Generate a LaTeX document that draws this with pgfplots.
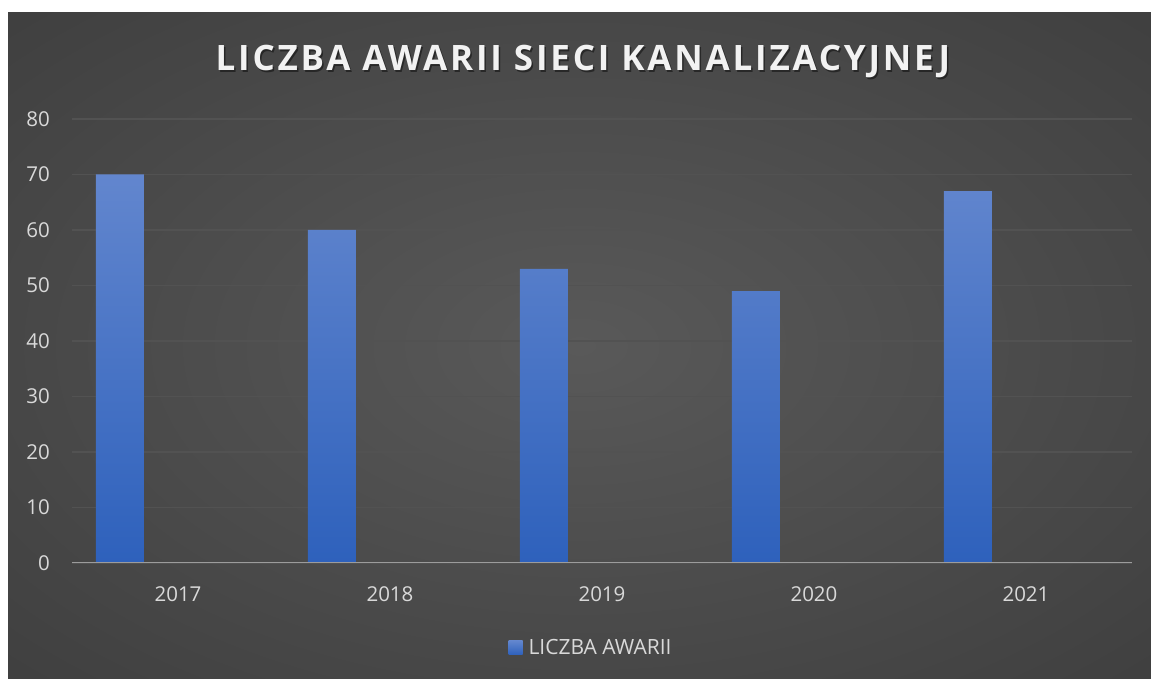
\documentclass[border=0pt]{standalone}
\usepackage{fontspec}
\setmainfont{Open Sans}
\newfontfamily\titlefont{Open Sans}[LetterSpace=8]
\usepackage{pgfplots}
\pgfplotsset{compat=1.18}
\definecolor{bgin}{HTML}{595959}
\definecolor{bgmid}{HTML}{353535}
\definecolor{bgout}{HTML}{262626}
\definecolor{bartop}{HTML}{6286CE}
\definecolor{barbot}{HTML}{2E61BC}
\definecolor{lbl}{HTML}{D9D9D9}
\definecolor{gridc}{HTML}{525252}
\definecolor{zeroc}{HTML}{9C9C9C}
\pgfdeclareradialshading{bgshade}{\pgfpoint{0bp}{0bp}}{color(0bp)=(bgin); color(50bp)=(bgmid); color(72bp)=(bgout)}
\begin{document}
\begin{tikzpicture}[x=1pt,y=1pt]
\path[use as bounding box, fill=white] (0pt,0pt) rectangle (1151pt,679pt);
\shade[shading=bgshade] (8pt,0pt) rectangle (1151pt,666pt);
\node[text=black, opacity=0.45, font=\titlefont\bfseries\fontsize{35}{42}\selectfont] at (584.5pt,615.5pt) {LICZBA AWARII SIECI KANALIZACYJNEJ};
\node[text=white!95!black, font=\titlefont\bfseries\fontsize{35}{42}\selectfont] at (583pt,617pt) {LICZBA AWARII SIECI KANALIZACYJNEJ};
\begin{axis}[
  at={(72pt,116pt)}, anchor=south west,
  scale only axis, width=1060pt, height=444pt,
  xmin=-0.5, xmax=4.5, ymin=0, ymax=80,
  xtick={0,1,2,3,4}, xticklabels={2017,2018,2019,2020,2021},
  ytick={0,10,...,80},
  axis line style={draw=none},
  major tick length=0pt, tick style={draw=none},
  ymajorgrids, grid style={draw=gridc, line width=1.5pt},
  /pgf/number format/assume math mode=true,
  ticklabel style={text=lbl, font=\fontsize{20.5}{24}\selectfont, inner sep=0pt},
  yticklabel style={anchor=east, xshift=-22pt},
  xticklabel style={anchor=north, yshift=-23pt},
  legend style={at={(0.4887,-0.191)}, anchor=center, draw=none, fill=none,
    text=lbl, font=\fontsize{21}{24}\selectfont, inner sep=0pt,
    nodes={inner sep=0pt}},
  legend image code/.code={\shade[top color=bartop, bottom color=barbot] (0pt,-7pt) rectangle (14pt,7pt); \path (20pt,0pt);},
]
\addplot[ybar, bar width=48pt, bar shift=-58pt, draw=none, top color=bartop, bottom color=barbot]
  coordinates {(0,70) (1,60) (2,53) (3,49) (4,67)};
\addlegendentry{LICZBA AWARII}
\draw[zeroc, line width=2.5pt] (axis cs:-0.5,0) -- (axis cs:4.5,0);
\end{axis}
\end{tikzpicture}
\end{document}
